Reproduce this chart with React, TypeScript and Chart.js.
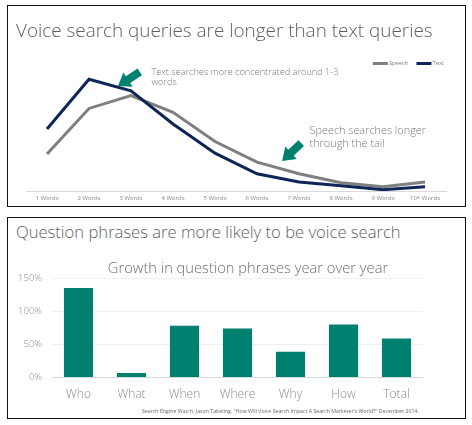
import React, { useEffect, useRef } from 'react';
import { Chart, registerables } from 'chart.js';

Chart.register(...registerables);

// ---------- Data ----------
const wordCategories = ['1 Words', '2 Words', '3 Words', '4 Words', '5 Words', '6 Words', '7 Words', '8 Words', '9 Words', '10+ Words'];
const speechShare = [8.6, 19.2, 22.2, 18.3, 11.5, 6.7, 4.0, 1.9, 1.0, 2.1];
const textShare = [14.4, 26.0, 23.3, 15.6, 8.8, 4.0, 2.1, 1.2, 0.3, 1.0];

const questionWords = ['Who', 'What', 'When', 'Where', 'Why', 'How', 'Total'];
const questionGrowth = [135, 7, 78, 74, 39, 80, 59];
const growthTickStep = 50;
const growthMax = 150;

const topTitle = 'Voice search queries are longer than text queries';
const bottomTitle = 'Question phrases are more likely to be voice search';
const barTitle = 'Growth in question phrases year over year';
const sourceNote = 'Search Engine Watch, Jason Tabeling, "How Will Voice Search Impact A Search Marketer\u2019s World?" December 2014.';
const note1 = ['Text searches more concentrated around 1-3', 'words'];
const note2 = ['Speech searches longer', 'through the tail'];
// arrow anchors in data space: [category index (fractional), value]
const arrow1Anchor = [1.69, 24.4];
const arrow2Anchor = [5.6, 7.0];

// ---------- Styles ----------
const FONT = '"Open Sans", "Segoe UI", "DejaVu Sans", sans-serif';
const SPEECH_COLOR = '#7f7f7f';
const TEXT_COLOR = '#0e2558';
const TEAL = '#00806f';
const LABEL_GRAY = '#8a8a8a';
const TITLE_GRAY = '#5f5f5f';

function drawArrow(ctx: CanvasRenderingContext2D, x: number, y: number, angleDeg: number) {
  const L = 26, hl = 12, hw = 17, sw = 8;
  ctx.save();
  ctx.translate(x, y);
  ctx.rotate((angleDeg * Math.PI) / 180);
  ctx.beginPath();
  ctx.moveTo(0, 0);
  ctx.lineTo(-hl, -hw / 2);
  ctx.lineTo(-hl, -sw / 2);
  ctx.lineTo(-L, -sw / 2);
  ctx.lineTo(-L, sw / 2);
  ctx.lineTo(-hl, sw / 2);
  ctx.lineTo(-hl, hw / 2);
  ctx.closePath();
  ctx.fillStyle = TEAL;
  ctx.fill();
  ctx.restore();
}

const annotationPlugin = {
  id: 'annotations',
  afterDraw(chart: any) {
    const { ctx, scales } = chart;
    const xs = scales.x, ys = scales.y;
    const t1x = xs.getPixelForValue(arrow1Anchor[0]);
    const t1y = ys.getPixelForValue(arrow1Anchor[1]);
    const t2x = xs.getPixelForValue(arrow2Anchor[0]);
    const t2y = ys.getPixelForValue(arrow2Anchor[1]);
    drawArrow(ctx, t1x, t1y, 147);
    drawArrow(ctx, t2x, t2y, 137);

    ctx.save();
    ctx.fillStyle = '#7a7a7a';
    ctx.textBaseline = 'alphabetic';
    ctx.textAlign = 'left';
    ctx.font = `300 9.2px ${FONT}`;
    ctx.fillText(note1[0], t1x + 33.4, t1y - 10.7);
    ctx.fillText(note1[1], t1x + 33.4, t1y - 1);
    ctx.font = `300 10.9px ${FONT}`;
    ctx.fillText(note2[0], t2x + 27.3, t2y - 26.7);
    ctx.fillText(note2[1], t2x + 27.3, t2y - 14);

    // legend (drawn from datasets)
    ctx.font = `5.8px ${FONT}`;
    ctx.textBaseline = 'middle';
    const ds = chart.data.datasets;
    let right = chart.chartArea.right - 2;
    const ly = 63.5;
    const items = ds.map((d: any) => ({ label: d.label, color: d.borderColor, w: ctx.measureText(d.label).width }));
    const positions: number[] = [];
    for (let i = items.length - 1; i >= 0; i--) {
      const start = right - items[i].w - 1 - 15;
      positions[i] = start;
      right = start - 8;
    }
    items.forEach((it: any, i: number) => {
      const x0 = positions[i];
      ctx.fillStyle = it.color;
      ctx.fillRect(x0, ly - 1.5, 15, 3);
      ctx.fillStyle = '#7a7a7a';
      ctx.fillText(it.label, x0 + 16, ly);
    });
    ctx.restore();
  },
};

export default function App() {
  const lineRef = useRef<HTMLCanvasElement | null>(null);
  const barRef = useRef<HTMLCanvasElement | null>(null);

  useEffect(() => {
    if (!lineRef.current || !barRef.current) return;
    const lineChart = new Chart(lineRef.current, {
      type: 'line',
      data: {
        labels: wordCategories,
        datasets: [
          { label: 'Speech', data: speechShare, borderColor: SPEECH_COLOR, borderWidth: 3, pointRadius: 0, tension: 0, fill: false, order: 1 },
          { label: 'Text', data: textShare, borderColor: TEXT_COLOR, borderWidth: 3, pointRadius: 0, tension: 0, fill: false, order: 0 },
        ],
      },
      options: {
        animation: false,
        responsive: false,
        layout: { padding: { left: 26, right: 26, top: 62, bottom: 3.8 } },
        plugins: { legend: { display: false }, tooltip: { enabled: false }, title: { display: false } },
        scales: {
          x: {
            offset: true,
            grid: { display: false, drawTicks: false },
            border: { display: true, color: '#d9d9d9', width: 1 },
            ticks: { color: LABEL_GRAY, font: { size: 6, family: FONT }, padding: 4, maxRotation: 0, autoSkip: false },
          },
          y: { display: false, min: 0, max: 30 },
        },
      },
      plugins: [annotationPlugin],
    } as any);

    const barChart = new Chart(barRef.current, {
      type: 'bar',
      data: {
        labels: questionWords,
        datasets: [{ label: 'Growth', data: questionGrowth, backgroundColor: TEAL, barPercentage: 0.55, categoryPercentage: 1 }],
      },
      options: {
        animation: false,
        responsive: false,
        layout: { padding: { left: 0, right: 49, top: 8, bottom: 0 } },
        plugins: { legend: { display: false }, tooltip: { enabled: false }, title: { display: false } },
        scales: {
          x: {
            grid: { display: false, drawTicks: false },
            border: { display: false },
            ticks: { color: LABEL_GRAY, font: { size: 12, family: FONT, weight: '300' }, padding: 9.5 },
          },
          y: {
            min: 0,
            max: growthMax,
            ticks: { stepSize: growthTickStep, callback: (v: any) => v + '%', color: LABEL_GRAY, font: { size: 9.5, family: FONT, weight: '300' }, padding: 10 },
            grid: { drawTicks: false, color: (c: any) => (c.tick && c.tick.value === 0 ? '#d9d9d9' : '#f0f0f0') },
            border: { display: false },
            afterFit: (s: any) => { s.width = 52; s.paddingTop = 0; s.paddingBottom = 0; },
          },
        },
      },
    } as any);

    return () => { lineChart.destroy(); barChart.destroy(); };
  }, []);

  const abs: React.CSSProperties = { position: 'absolute', whiteSpace: 'nowrap', lineHeight: 1, fontFamily: FONT };

  return (
    <div style={{ position: 'absolute', left: 0, top: 0, width: 472, height: 425, background: '#fff', overflow: 'hidden', fontFamily: FONT }}>
      <div style={{ position: 'absolute', left: 7, top: 5, width: 459, height: 202, border: '1px solid #111', boxSizing: 'border-box' }} />
      <div style={{ position: 'absolute', left: 7, top: 217, width: 459, height: 202, border: '1px solid #111', boxSizing: 'border-box' }} />
      <canvas ref={lineRef} width={472} height={210} style={{ position: 'absolute', left: 0, top: 0 }} />
      <canvas ref={barRef} width={472} height={141} style={{ position: 'absolute', left: 0, top: 270 }} />
      <div style={{ ...abs, left: 16, top: 20.5, fontSize: 18.9, fontWeight: 300, color: TITLE_GRAY }}>{topTitle}</div>
      <div style={{ ...abs, left: 16, top: 223.5, fontSize: 16.6, fontWeight: 300, color: TITLE_GRAY }}>{bottomTitle}</div>
      <div style={{ ...abs, left: 248, top: 260.3, transform: 'translateX(-50%)', fontSize: 14.7, fontWeight: 300, color: '#6f6f6f' }}>{barTitle}</div>
      <div style={{ ...abs, left: 142, top: 409, fontSize: 5.7, color: '#666', transform: 'scaleX(0.92)', transformOrigin: 'left center' }}>{sourceNote}</div>
    </div>
  );
}
